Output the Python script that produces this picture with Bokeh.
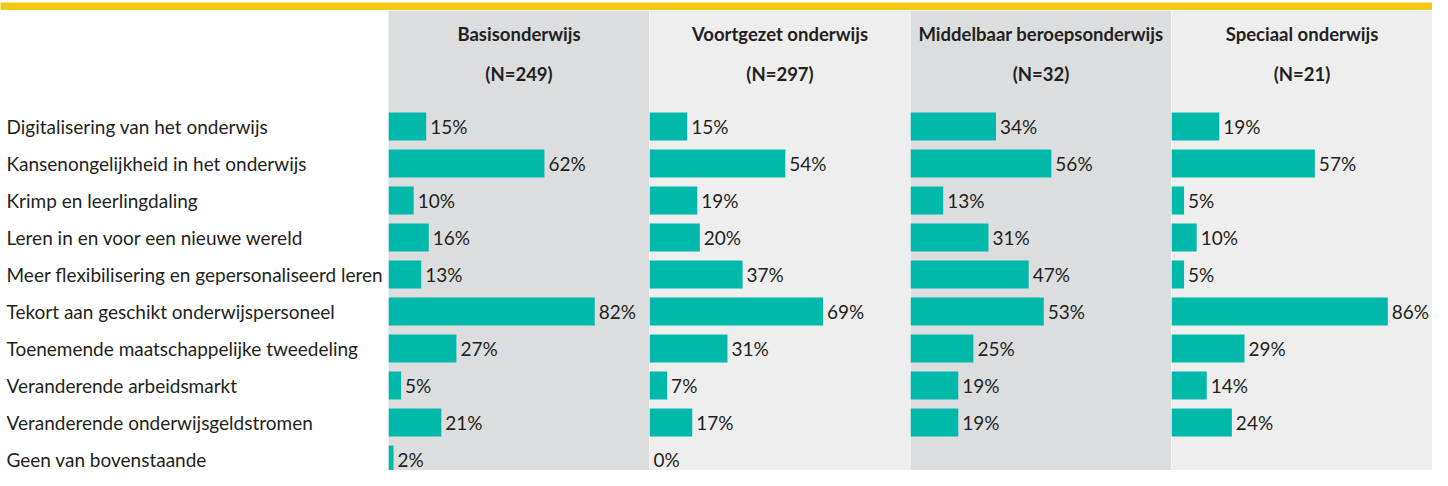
from bokeh.plotting import figure
from bokeh.layouts import column, row
from bokeh.models import Range1d, ColumnDataSource, Label
from bokeh.embed import file_html
from bokeh.resources import INLINE
from bokeh.core.properties import value

categories = [
    "Digitalisering van het onderwijs",
    "Kansenongelijkheid in het onderwijs",
    "Krimp en leerlingdaling",
    "Leren in en voor een nieuwe wereld",
    "Meer flexibilisering en gepersonaliseerd leren",
    "Tekort aan geschikt onderwijspersoneel",
    "Toenemende maatschappelijke tweedeling",
    "Veranderende arbeidsmarkt",
    "Veranderende onderwijsgeldstromen",
    "Geen van bovenstaande",
]
panel_names = ["Basisonderwijs", "Voortgezet onderwijs", "Middelbaar beroepsonderwijs", "Speciaal onderwijs"]
panel_n = [249, 297, 32, 21]
basis = [15, 62, 10, 16, 13, 82, 27, 5, 21, 2]
voortgezet = [15, 54, 19, 20, 37, 69, 31, 7, 17, 0]
mbo = [34, 56, 13, 31, 47, 53, 25, 19, 19, None]
speciaal = [19, 57, 5, 10, 5, 86, 29, 14, 24, None]
series = [basis, voortgezet, mbo, speciaal]

TEAL = "#00b9ab"
YELLOW = "#f5c815"
BG = ["#dcdddf", "#eeeeee", "#dcdddf", "#eeeeee"]
TXT = "#231f20"
FONT = "Lato"

BAND = 10
H = 460
LW = 388
PW = 261
ROW = 37.0
FIRST = 116.0
idx = list(range(len(categories)))


def yr():
    top = -FIRST / ROW
    bottom = top + H / ROW
    return Range1d(bottom, top)


def blank(p, bg):
    p.background_fill_color = bg
    p.border_fill_color = bg
    p.outline_line_color = None
    p.grid.visible = False
    p.min_border = 0
    return p


band = figure(width=LW + 4 * PW, height=BAND, output_backend="svg", toolbar_location=None,
              x_axis_location=None, y_axis_location=None)
blank(band, YELLOW)

lab = figure(width=LW, height=H, output_backend="svg", toolbar_location=None,
             x_axis_location=None, y_axis_location=None,
             x_range=Range1d(0, LW), y_range=yr())
blank(lab, "white")
lab.text(x=[6] * len(categories), y=idx, text=categories,
         text_font=value(FONT), text_font_size="19px", text_color=TXT,
         text_baseline="middle", text_align="left")

panels = []
for k, (name, n, vals) in enumerate(zip(panel_names, panel_n, series)):
    p = figure(width=PW, height=H, output_backend="svg", toolbar_location=None,
               x_axis_location=None, y_axis_location=None,
               x_range=Range1d(0, PW / 2.515), y_range=yr())
    blank(p, BG[k])
    ys = [i for i, v in zip(idx, vals) if v is not None]
    vs = [v for v in vals if v is not None]
    src = ColumnDataSource(dict(y=ys, v=vs, t=[f"{v}%" for v in vs]))
    p.hbar(y="y", right="v", left=0, height=28 / ROW, source=src,
           fill_color=TEAL, line_color=None)
    p.text(x="v", y="y", text="t", source=src, x_offset=4,
           text_font=value(FONT), text_font_size="19px", text_color=TXT,
           text_baseline="middle", text_align="left")
    for txt, yy in [(name, H - 23), (f"(N={n})", H - 63)]:
        p.add_layout(Label(x=PW / 2, y=yy, x_units="screen", y_units="screen", text=txt,
                           text_font=FONT, text_font_size="18.5px", text_font_style="bold",
                           text_color=TXT, text_align="center", text_baseline="middle"))
    panels.append(p)

layout = column(band, row(lab, *panels, spacing=0), spacing=0)

open("out.html", "w").write(file_html(layout, INLINE))
